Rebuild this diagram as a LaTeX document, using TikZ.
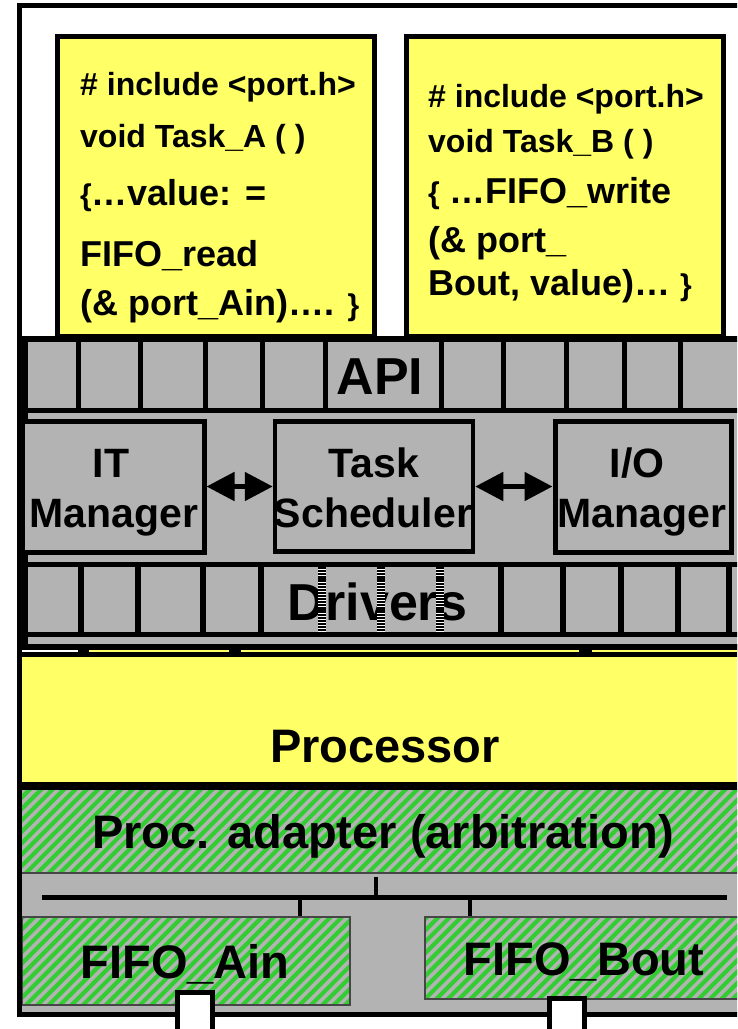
\documentclass[tikz,border=0pt]{standalone}
\usepackage{fontspec}
\setmainfont{Liberation Sans}
\usetikzlibrary{arrows.meta}
\definecolor{boxyellow}{RGB}{255,255,102}
\definecolor{osgray}{RGB}{179,179,179}
\definecolor{hatchgreen}{RGB}{51,204,51}
\definecolor{edgegray}{RGB}{70,70,70}

% gray area with green diagonal stripes: #1,#2 = left,top ; #3,#4 = right,bottom
\newcommand\hatchrect[4]{%
  \begin{scope}
    \clip (#1,#2) rectangle (#3,#4);
    \fill[osgray] (#1,#2) rectangle (#3,#4);
    \foreach \k in {0,...,85}
      \draw[hatchline] ({-150+\k*11.4},#4+5) -- ++(160,-160);
  \end{scope}}
\newcommand\smallbrace[1]{{\fontsize{30}{30}\selectfont#1}}

\begin{document}
\begin{tikzpicture}[x=1pt,y=-1pt,
  every node/.style={inner sep=0pt},
  codesm/.style={anchor=base west, font=\fontsize{32}{32}\selectfont\bfseries},
  codelg/.style={anchor=base west, font=\fontsize{36}{36}\selectfont\bfseries},
  mgrtext/.style={anchor=base, font=\fontsize{41}{41}\selectfont\bfseries},
  bigtext/.style={anchor=base, font=\fontsize{47}{47}\selectfont\bfseries},
  layertext/.style={anchor=base, font=\fontsize{52}{52}\selectfont\bfseries},
  taskbox/.style={draw, line width=5pt, fill=boxyellow},
  mgrbox/.style={draw, line width=5pt, fill=osgray},
  cell/.style={line width=5pt},
  drvcell/.style={line width=6pt},
  link/.style={line width=5pt,
    {Triangle[length=28pt,width=28pt]}-{Triangle[length=28pt,width=28pt]}},
  hatchline/.style={hatchgreen, line width=4.2pt},
  fifoedge/.style={draw=edgegray, line width=2pt},
  port/.style={draw, line width=5pt, fill=white},
]
\useasboundingbox (0,0) rectangle (737,1029);
\clip (0,0) rectangle (737,1029);
\fill[white] (0,0) rectangle (737,1029);

% ---------------- application tasks ----------------
\node[taskbox, minimum width=317pt, minimum height=300pt] (taskA) at (215.5,186) {};
\node[taskbox, minimum width=317pt, minimum height=300pt] (taskB) at (564.5,186) {};

\node[codesm] (a1) at (80,95)  {\# include <port.h>};
\node[codesm] (a2) at (80,147) {void Task\_A ( )};
\node[codelg] (a3) at (80,205) {\smallbrace{\{}…value: =};
\node[codelg] (a4) at (80,266) {FIFO\_read};
\node[codelg] (a5) at (80,315) {(\& port\_Ain)…. \smallbrace{\}}};

\node[codesm] (b1) at (428,107) {\# include <port.h>};
\node[codesm] (b2) at (428,152) {void Task\_B ( )};
\node[codelg] (b3) at (428,203) {\smallbrace{\{} …FIFO\_write};
\node[codelg] (b4) at (428,252) {(\& port\_};
\node[codelg] (b5) at (428,295) {Bout, value)… \smallbrace{\}}};

% ---------------- operating system block ----------------
\node[draw, line width=6pt, fill=osgray, minimum width=725pt, minimum height=308pt] (os) at (387.5,493) {};

% API row
\foreach \x in {78,140,205,262,325,441,503,566,624,680}
  \draw[cell] (\x,339) -- (\x,410.5);
\draw[cell] (25,410.5) -- (750,410.5);
\node[layertext] (api) at (380,394) {API};

% managers
\node[mgrbox, minimum width=182pt, minimum height=131pt] (itm) at (113,486.5) {};
\node[mgrbox, line width=4.5pt, minimum width=198pt, minimum height=130pt] (sched) at (374,486.5) {};
\node[mgrbox, minimum width=176pt, minimum height=131pt] (iom) at (643,486.5) {};
\node[mgrtext] (itm1) at (111,477) {IT};
\node[mgrtext] (itm2) at (114,527) {Manager};
\node[mgrtext] (sch1) at (374,477) {Task};
\node[mgrtext] (sch2) at (373,527) {Scheduler};
\node[mgrtext] (iom1) at (637,477) {I/O};
\node[mgrtext] (iom2) at (642,527) {Manager};
\draw[link] (itm.east) -- (sched.west);
\draw[link] (sched.east) -- (iom.west);

% drivers row
\draw[cell] (25,564.5) -- (750,564.5);
\draw[cell] (25,634.5) -- (750,634.5);
\foreach \x in {81,138,203,261,501,563,621,678,729}
  \draw[drvcell] (\x,564.5) -- (\x,634.5);
\node[layertext] (drv) at (377.5,620) {Drivers};
\foreach \x in {322,381,440}{
  \draw[white, line width=8pt] (\x,567) -- (\x,632);
  \draw[black, line width=8pt, dash pattern=on 2.2pt off 0.9pt] (\x,567) -- (\x,632);
}

% bus connection strip between OS and processor
\fill[black] (19,644) rectangle (750,657);
\draw[white, line width=2pt] (22,651) -- (78,651);
\draw[boxyellow, line width=2pt] (89,651) -- (229,651);
\draw[boxyellow, line width=2pt] (241,651) -- (579,651);
\draw[boxyellow, line width=2pt] (592,651) -- (750,651);

% ---------------- processor ----------------
\node[fill=boxyellow, minimum width=731pt, minimum height=125pt] (cpu) at (384.5,719.5) {};
\draw[line width=8pt] (19,786) -- (750,786);
\node[bigtext] (cputxt) at (385,762) {Processor};

% processor adapter
\hatchrect{19}{790}{750}{873}
\draw[draw=edgegray, line width=2pt] (19,873) -- (750,873);
\node[bigtext] (adapter) at (383,848) {Proc. adapter (arbitration)};

% ---------------- bus and FIFOs ----------------
\fill[osgray] (19,874) rectangle (750,1014);
\coordinate (busL) at (42,897);
\coordinate (busR) at (727,897);
\coordinate (busUp) at (376,877);
\coordinate (busM) at (376,897);
\coordinate (tapA) at (300,897);
\coordinate (tapB) at (470,897);
\draw[line width=5pt] (busL) -- (busR);
\draw[line width=4pt] (busUp) -- (busM);

\hatchrect{22}{917}{350}{1005}
\hatchrect{425}{917}{750}{999}
\node[fifoedge, minimum width=328pt, minimum height=88pt] (fifoA) at (186,961) {};
\node[fifoedge, minimum width=325pt, minimum height=82pt] (fifoB) at (587.5,958) {};
\draw[line width=4pt] (tapA) -- (tapA |- fifoA.north);
\draw[line width=4pt] (tapB) -- (tapB |- fifoB.north);
\node[bigtext] (fifoAtxt) at (185,978) {FIFO\_Ain};
\node[bigtext] (fifoBtxt) at (584,975) {FIFO\_Bout};

% outer frame
\draw[line width=5pt] (19,5.5) rectangle (760,1014.5);

% ports
\node[port, minimum width=35pt, minimum height=60pt] (portA) at (195,1022) {};
\node[port, minimum width=35pt, minimum height=60pt] (portB) at (567,1028.5) {};
\end{tikzpicture}
\end{document}
